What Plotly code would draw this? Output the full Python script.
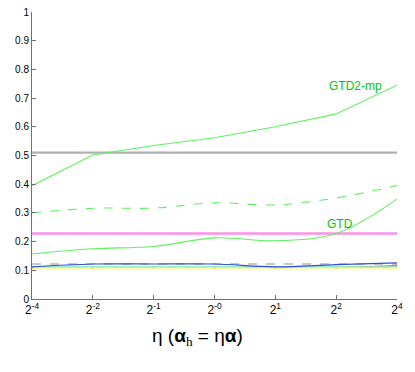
import plotly.graph_objects as go

eta_labels = ["2<sup>-4</sup>", "2<sup>-2</sup>", "2<sup>-1</sup>", "2<sup>-0</sup>",
              "2<sup>1</sup>", "2<sup>2</sup>", "2<sup>4</sup>"]
pos = list(range(len(eta_labels)))

gtd2_mp = [0.395, 0.502, 0.535, 0.562, 0.600, 0.645, 0.745]
gtd2_dash = [0.300, 0.316, 0.317, 0.335, 0.328, 0.352, 0.395]
gtd = [0.157, 0.175, 0.183, 0.213, 0.203, 0.228, 0.348]
blue = [0.112, 0.122, 0.122, 0.122, 0.112, 0.120, 0.126]
red = [0.110, 0.110, 0.110, 0.110, 0.110, 0.110, 0.116]
cyan = [0.112, 0.112, 0.112, 0.112, 0.112, 0.112, 0.112]

gray_level = 0.510
magenta_level = 0.228
gray_dash_level = 0.122
yellow_level = 0.110

fig = go.Figure()


def hline(level, color, width, dash="solid"):
    fig.add_trace(go.Scatter(x=pos, y=[level] * len(pos), mode="lines",
                             line=dict(color=color, width=width, dash=dash),
                             showlegend=False, hoverinfo="skip"))


fig.add_trace(go.Scatter(x=pos, y=red, mode="lines+markers", line=dict(color="#ff3010", width=1),
                         marker=dict(size=2.5, color="#ff5010"), showlegend=False))
hline(yellow_level, "#ffff50", 2)
fig.add_trace(go.Scatter(x=pos, y=cyan, mode="lines", line=dict(color="#60e8e8", width=1),
                         showlegend=False))
hline(gray_dash_level, "#909090", 1.2, "dash")
fig.add_trace(go.Scatter(x=pos, y=blue, mode="lines", line=dict(color="#3050e0", width=1.2, shape="spline"),
                         showlegend=False))
hline(magenta_level, "#ff90e8", 2.5)
hline(gray_level, "#b0b0b0", 2.2)
fig.add_trace(go.Scatter(x=pos, y=gtd, mode="lines", line=dict(color="#60f060", width=1.1, shape="spline"),
                         showlegend=False))
fig.add_trace(go.Scatter(x=pos, y=gtd2_dash, mode="lines",
                         line=dict(color="#60f060", width=1.1, dash="dash", shape="spline"),
                         showlegend=False))
fig.add_trace(go.Scatter(x=pos, y=gtd2_mp, mode="lines", line=dict(color="#60f060", width=1.1),
                         showlegend=False))

fig.add_annotation(x=5.31, y=0.742, text="GTD2-mp", showarrow=False,
                   font=dict(color="#00c800", size=12), xanchor="center", yanchor="middle")
fig.add_annotation(x=5.07, y=0.261, text="GTD", showarrow=False,
                   font=dict(color="#00c800", size=12), xanchor="center", yanchor="middle")

# x-axis title as an annotation so it can sit slightly left of centre, as in the reference
fig.add_annotation(xref="paper", yref="paper", x=0.453, y=-0.082, yanchor="top",
                   text="η (<b>α</b><sub><span style='font-family:Liberation Serif'>h</span></sub> = η<b>α</b>)",
                   showarrow=False, font=dict(size=19, color="black"))

fig.update_layout(
    width=415, height=372,
    paper_bgcolor="white", plot_bgcolor="white",
    margin=dict(l=32, r=18, t=12, b=73),
    font=dict(family="Liberation Sans, Arial", size=10, color="black"),
    xaxis=dict(range=[0, 6], tickvals=pos, ticktext=eta_labels, showgrid=False,
               zeroline=False, showline=True, linecolor="#707070", ticks="inside",
               ticklen=4, tickcolor="#707070", tickfont=dict(size=12), automargin=False),
    yaxis=dict(range=[0, 1], tickvals=[i / 10 for i in range(11)],
               ticktext=["0", "0.1", "0.2", "0.3", "0.4", "0.5", "0.6", "0.7", "0.8", "0.9", "1"],
               showgrid=False, zeroline=False, showline=True, linecolor="#707070",
               ticks="inside", ticklen=4, tickcolor="#707070", automargin=False),
)

# drop the browser's default 8px body margin so the figure sits at the window origin
fig.write_html("out.html", config={"displayModeBar": False},
               post_script="document.body.style.margin='0';")
